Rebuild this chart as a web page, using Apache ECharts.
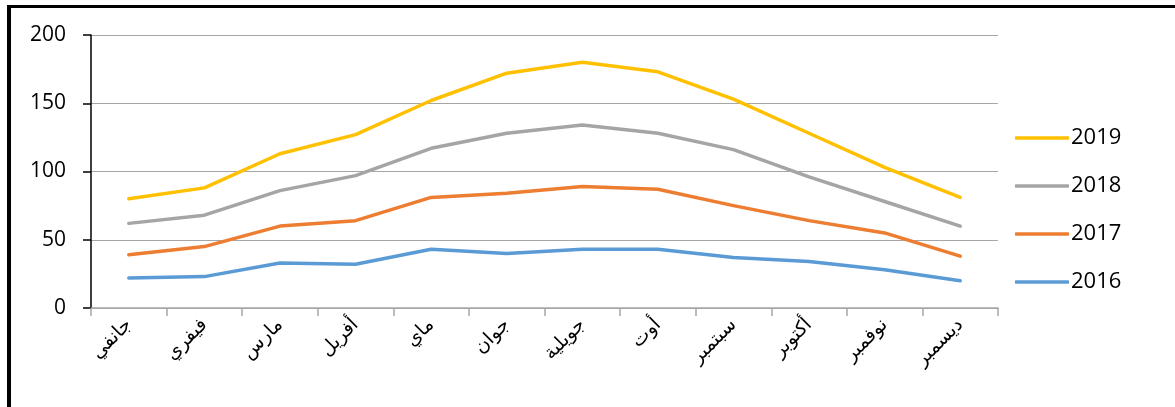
<!DOCTYPE html>
<html>
<head>
<meta charset="utf-8">
<script src="https://cdn.jsdelivr.net/npm/echarts@6/dist/echarts.min.js"></script>
<style>
  html, body { margin: 0; padding: 0; background: #fff; }
  #wrap { position: relative; width: 1175px; height: 407px; overflow: hidden; }
  #chart { position: absolute; left: 0; top: 0; width: 1175px; height: 407px; }
  #frame { position: absolute; left: 7px; top: 5px; width: 1200px; height: 450px;
           border-left: 4px solid #000; border-top: 3px solid #000; pointer-events: none; }
</style>
</head>
<body>
<div id="wrap">
  <div id="chart"></div>
  <div id="frame"></div>
</div>
<script>
const months = ['جانفي','فيفري','مارس','أفريل','ماي','جوان','جويلية','أوت','سبتمبر','أكتوبر','نوفمبر','ديسمبر'];
const yTicks = [0, 50, 100, 150, 200];
const s2019 = [80, 88, 113, 127, 152, 172, 180, 173, 153, 128, 103, 81];
const s2018 = [62, 68, 86, 97, 117, 128, 134, 128, 116, 96, 78, 60];
const s2017 = [39, 45, 60, 64, 81, 84, 89, 87, 75, 64, 55, 38];
const s2016 = [22, 23, 33, 32, 43, 40, 43, 43, 37, 34, 28, 20];

const chart = echarts.init(document.getElementById('chart'));
const mk = (name, data, color) => ({
  name, type: 'line', data, showSymbol: false, symbol: 'none',
  lineStyle: { color, width: 3.5, cap: 'round', join: 'round' },
  itemStyle: { color }
});
chart.setOption({
  animation: false,
  backgroundColor: '#fff',
  grid: { left: 91, right: 177, top: 35, bottom: 99 },
  legend: {
    orient: 'vertical', left: 1010, top: 122,
    data: ['2019', '2018', '2017', '2016'],
    icon: 'roundRect', itemWidth: 54, itemHeight: 3.5, itemGap: 26,
    textStyle: { fontFamily: 'Open Sans', fontSize: 22, color: '#000', padding: [0, 0, 0, -3] }
  },
  xAxis: {
    type: 'category', data: months, boundaryGap: true,
    axisLine: { lineStyle: { color: '#A6A6A6', width: 1.5 } },
    axisTick: { show: true, length: 8, lineStyle: { color: '#A6A6A6', width: 1.5 } },
    axisLabel: { rotate: 45, interval: 0, margin: 14, color: '#000', fontSize: 19, fontFamily: 'DejaVu Sans' }
  },
  yAxis: {
    type: 'value', min: yTicks[0], max: yTicks[yTicks.length - 1], interval: 50,
    axisLine: { show: true, lineStyle: { color: '#000', width: 1.5 } },
    axisTick: { show: true, length: 8, lineStyle: { color: '#000', width: 1.5 } },
    axisLabel: { margin: 25, color: '#000', fontSize: 21, fontFamily: 'Open Sans' },
    splitLine: { lineStyle: { color: '#A6A6A6', width: 1.2 } }
  },
  series: [
    mk('2016', s2016, '#5B9BD5'),
    mk('2017', s2017, '#ED7D31'),
    mk('2018', s2018, '#A5A5A5'),
    mk('2019', s2019, '#FFC000')
  ]
});
</script>
</body>
</html>
